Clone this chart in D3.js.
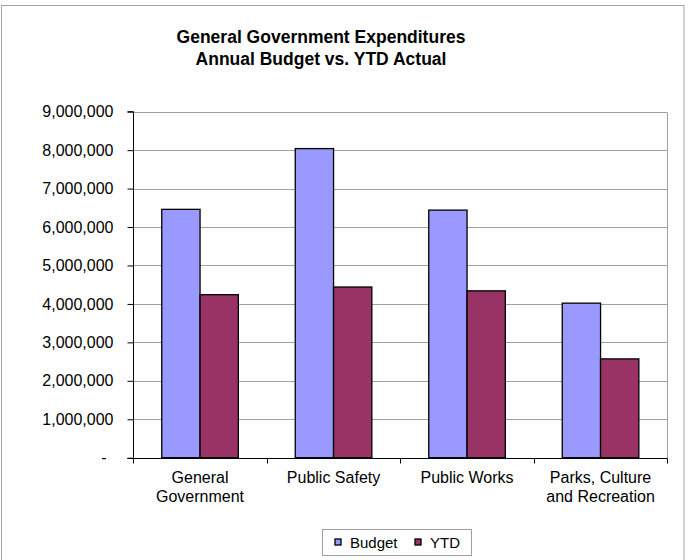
<!DOCTYPE html>
<html>
<head>
<meta charset="utf-8">
<script src="https://cdn.jsdelivr.net/npm/d3@7"></script>
<style>
  html, body { margin: 0; padding: 0; background: #ffffff; }
  svg { display: block; }
  text { font-family: Arial, "Liberation Sans", sans-serif; fill: #000; }
</style>
</head>
<body>
<svg id="chart" width="688" height="560"></svg>
<script>
// ---- data ----
const categories = [["General", "Government"], ["Public Safety"], ["Public Works"], ["Parks, Culture", "and Recreation"]];
const categoryKeys = ["General Government", "Public Safety", "Public Works", "Parks, Culture and Recreation"];
const seriesNames = ["Budget", "YTD"];
const budgetValues = [6460000, 8040000, 6440000, 4020000];
const ytdValues = [4240000, 4440000, 4340000, 2570000];
const yTicks = [0, 1000000, 2000000, 3000000, 4000000, 5000000, 6000000, 7000000, 8000000, 9000000];
const titleLines = ["General Government Expenditures", "Annual Budget vs. YTD Actual"];
const seriesColors = ["#9999FF", "#993366"];

// ---- layout ----
const svg = d3.select("#chart");
const plot = { left: 133.3, right: 667.3, top: 111.7, bottom: 457.7 };

// outer frame
svg.append("rect")
  .attr("x", 1.5).attr("y", 5.5).attr("width", 682.5).attr("height", 600)
  .attr("fill", "#fff").attr("stroke", "#a6a6a6").attr("stroke-width", 1);

// title
svg.selectAll("text.title").data(titleLines).enter().append("text")
  .attr("class", "title")
  .attr("x", 321)
  .attr("y", (d, i) => 43 + i * 22)
  .attr("text-anchor", "middle")
  .style("font-weight", "bold")
  .style("font-size", "17.5px")
  .text(d => d);

// scales
const y = d3.scaleLinear().domain([0, 9000000]).range([plot.bottom, plot.top]);
const x0 = d3.scaleBand().domain(categoryKeys).range([plot.left, plot.right]).paddingInner(0).paddingOuter(0);
const x1 = d3.scaleBand().domain(seriesNames).range([0, x0.bandwidth()]).paddingInner(0).paddingOuter(0.743);

// gridlines
svg.append("g").selectAll("line").data(yTicks.filter(t => t > 0)).enter().append("line")
  .attr("x1", plot.left).attr("x2", plot.right)
  .attr("y1", d => Math.round(y(d)) + 0.5).attr("y2", d => Math.round(y(d)) + 0.5)
  .attr("stroke", "#a0a0a0").attr("stroke-width", 1);

// right border of plot area
svg.append("line")
  .attr("x1", Math.round(plot.right) + 0.5).attr("x2", Math.round(plot.right) + 0.5)
  .attr("y1", Math.round(plot.top) + 0.5).attr("y2", Math.round(plot.bottom))
  .attr("stroke", "#a0a0a0").attr("stroke-width", 1);

// bars
const data = categoryKeys.map((c, i) => ({ cat: c, values: [budgetValues[i], ytdValues[i]] }));
const groups = svg.append("g").selectAll("g").data(data).enter().append("g")
  .attr("transform", d => `translate(${x0(d.cat)},0)`);
groups.selectAll("rect").data(d => d.values.map((v, j) => ({ key: seriesNames[j], v, j }))).enter().append("rect")
  .attr("x", d => x1(d.key))
  .attr("width", x1.bandwidth())
  .attr("y", d => y(d.v))
  .attr("height", d => y(0) - y(d.v))
  .attr("fill", d => seriesColors[d.j])
  .attr("stroke", "#000").attr("stroke-width", 1.3);

// y axis
const yAxis = d3.axisLeft(y).tickValues(yTicks).tickSize(6).tickPadding(14)
  .tickFormat(d => d === 0 ? "-" : d3.format(",")(d));
const gy = svg.append("g").attr("transform", `translate(${Math.round(plot.left) + 0.5},0)`).call(yAxis);
gy.select(".domain").attr("stroke", "#000").attr("d", `M-6,${plot.top}H0V${plot.bottom}`);
gy.selectAll(".tick line").attr("stroke", "#000");
gy.selectAll(".tick text").style("font-size", "16px").attr("fill", "#000")
  .attr("dx", d => d === 0 ? "-7px" : "0");

// x axis
const gx = svg.append("g").attr("transform", `translate(0,${Math.round(plot.bottom) + 0.5})`);
gx.append("line").attr("x1", plot.left - 6).attr("x2", plot.right).attr("y1", 0).attr("y2", 0).attr("stroke", "#000");
const boundaries = categoryKeys.map(c => x0(c)).concat([x0(categoryKeys[categoryKeys.length - 1]) + x0.bandwidth()]);
gx.selectAll("line.tk").data(boundaries).enter().append("line").attr("class", "tk")
  .attr("x1", d => Math.round(d) + 0.5).attr("x2", d => Math.round(d) + 0.5)
  .attr("y1", 0).attr("y2", 5).attr("stroke", "#000");
const labels = gx.selectAll("text.xl").data(categoryKeys).enter().append("text").attr("class", "xl")
  .attr("x", d => x0(d) + x0.bandwidth() / 2)
  .attr("text-anchor", "middle")
  .style("font-size", "16px");
labels.each(function (d, i) {
  const t = d3.select(this);
  categories[i].forEach((line, k) => {
    t.append("tspan").attr("x", x0(d) + x0.bandwidth() / 2).attr("y", 24 + k * 19.5).text(line);
  });
});

// legend
const lg = svg.append("g").attr("transform", "translate(322.5,529.5)");
lg.append("rect").attr("width", 149).attr("height", 26).attr("fill", "#fff").attr("stroke", "#a0a0a0");
const legendX = [12.5, 92.5];
seriesNames.forEach((s, i) => {
  lg.append("rect").attr("x", legendX[i]).attr("y", 9.5).attr("width", 6).attr("height", 6)
    .attr("fill", seriesColors[i]).attr("stroke", "#000").attr("stroke-width", 1.3);
  lg.append("text").attr("x", legendX[i] + 15).attr("y", 18.5).style("font-size", "15px").text(s);
});
</script>
</body>
</html>
